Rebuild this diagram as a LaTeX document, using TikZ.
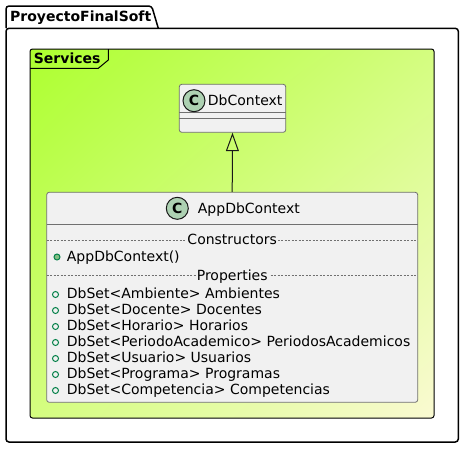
\documentclass[tikz,border=0pt]{standalone}
\usepackage{fontspec}
\setmainfont{DejaVu Sans}
\usetikzlibrary{arrows.meta,shadings}
\definecolor{gy}{HTML}{ADFF2F}
\definecolor{lgy}{HTML}{FAFAD2}
\definecolor{midgy}{HTML}{D4FD80}
\definecolor{classbg}{HTML}{F1F1F1}
\definecolor{classborder}{HTML}{181818}
\definecolor{classline}{HTML}{707070}
\definecolor{circ}{HTML}{ADD1B2}
\definecolor{bulletline}{HTML}{038048}
\definecolor{bulletfill}{HTML}{84BE84}
\begin{document}
\begin{tikzpicture}[x=1pt,y=-1pt,
  txt/.style={inner sep=0pt, font=\fontsize{14}{16}\selectfont, text=black},
  boldtxt/.style={inner sep=0pt, font=\fontsize{14}{16}\selectfont\bfseries, text=black},
  classbox/.style={draw=classline, fill=classbg, line width=0.8pt, rounded corners=2.5pt, inner sep=0pt},
  sepline/.style={draw=classline, line width=0.8pt},
  dotsep/.style={draw=classline, line width=0.8pt, dash pattern=on 2pt off 1.5pt},
  sectitle/.style={inner sep=1pt, fill=classbg, font=\fontsize{14}{16}\selectfont, text=black},
  spot/.style={circle, draw=classborder, line width=1pt, fill=circ, minimum size=22pt, inner sep=0pt, font=\fontsize{14}{16}\selectfont\bfseries},
  pubfill/.style={circle, draw=bulletline, line width=1pt, fill=bulletfill, minimum size=6pt, inner sep=0pt},
  pubopen/.style={circle, draw=bulletline, line width=1pt, minimum size=6pt, inner sep=0pt},
  pkgline/.style={draw=black, line width=1.5pt},
]
\useasboundingbox (0,0) rectangle (464,448);
\fill[white] (0,0) rectangle (464,448);

% package ProyectoFinalSoft
\draw[pkgline, rounded corners=3pt] (6,28) -- (6,6) -- (151.7,6) -- (158.3,28.3);
\draw[pkgline, rounded corners=3pt] (6,28.3) -- (458.3,28.3) -- (458.3,442) -- (6,442) -- cycle;
\node[boldtxt, anchor=base west] (pkgname) at (10,21) {ProyectoFinalSoft};

% frame Services
\shade[upper left=gy, lower right=lgy, upper right=midgy, lower left=midgy, rounded corners=2.5pt]
  (30,49) rectangle (434,418);
\draw[draw=black, line width=1pt, rounded corners=2.5pt] (30,49) rectangle (434,418);
\draw[draw=black, line width=1pt] (30,68.3) -- (98.3,68.3) -- (108.3,60) -- (108.3,49);
\node[boldtxt, anchor=base west] (frname) at (33.7,63) {Services};

% class DbContext
\node[classbox, minimum width=106.4pt, minimum height=48pt] (db) at (232.5,108.3) {};
\draw[sepline] (179.3,112.7) -- (285.7,112.7);
\draw[sepline] (179.3,118.3) -- (285.7,118.3);
\node[spot] (dbspot) at (194,100.7) {C};
\node[txt, anchor=base west] (dbname) at (207.7,105) {DbContext};

% class AppDbContext
\node[classbox, minimum width=371pt, minimum height=210pt] (app) at (232.2,297.3) {};
\draw[sepline] (46.7,224.3) -- (417.7,224.3);
\node[spot] (appspot) at (177.3,208.3) {C};
\node[txt, anchor=base west] (appname) at (197.7,213.3) {AppDbContext};

\draw[dotsep] (46.7,240) -- (417.7,240);
\node[sectitle, anchor=base] (ctors) at (232.2,244.5) {Constructors};
\node[pubfill] (b0) at (57,257) {};
\node[txt, anchor=base west] (c1) at (66.7,261) {AppDbContext()};

\draw[dotsep] (46.7,275.7) -- (417.7,275.7);
\node[sectitle, anchor=base] (props) at (232.2,280) {Properties};

\foreach \i/\t in {0/{DbSet<Ambiente> Ambientes},
                   1/{DbSet<Docente> Docentes},
                   2/{DbSet<Horario> Horarios},
                   3/{DbSet<PeriodoAcademico> PeriodosAcademicos},
                   4/{DbSet<Usuario> Usuarios},
                   5/{DbSet<Programa> Programas},
                   6/{DbSet<Competencia> Competencias}} {
  \node[pubopen] (pb\i) at (55.5,{298+16*\i-3.5}) {};
  \node[txt, anchor=base west] (p\i) at (66.7,{298+16*\i}) {\t};
}

% inheritance
\draw[draw=classborder, line width=1pt, -{Triangle[open, length=18.5pt, width=13pt]}]
  (app.north) -- (db.south);
\end{tikzpicture}
\end{document}
